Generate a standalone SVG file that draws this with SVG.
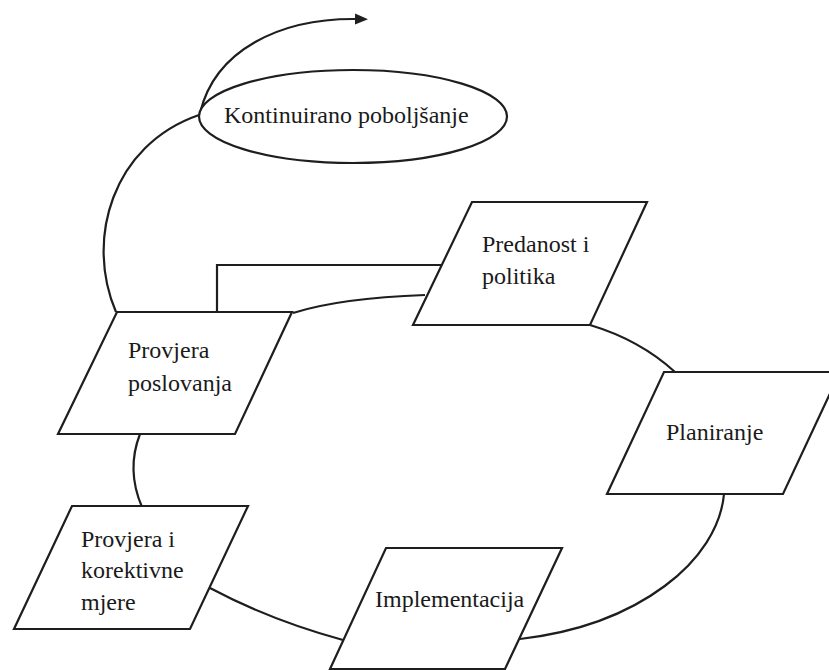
<svg xmlns="http://www.w3.org/2000/svg" width="829" height="670" viewBox="0 0 829 670">
<style>
.c{fill:none;stroke:#1e1e1e;stroke-width:2.2}
.n{fill:#fff;stroke:#1e1e1e;stroke-width:2.2}
.t{font-family:"Liberation Serif",serif;font-size:24px;fill:#1a1a1a}
</style>
<defs>
<marker id="ah" markerUnits="userSpaceOnUse" markerWidth="14" markerHeight="12" refX="2" refY="5.5" orient="auto">
<path d="M0,0 L13,5.5 L0,11 z" fill="#1e1e1e"/>
</marker>
</defs>
<rect width="829" height="670" fill="#fff"/>
<g id="connectors">
<path class="c" d="M200,113 C215,50 280,18 357,19" marker-end="url(#ah)"/>
<path class="c" d="M199,115 C112,145 85,240 116,312"/>
<path class="c" d="M217,311 V265 H442"/>
<path class="c" d="M293,313 Q340,298 425,295"/>
<path class="c" d="M590,325 Q640,340 675,372"/>
<path class="c" d="M724,494 C718,560 640,625 520,639"/>
<path class="c" d="M210,588 Q270,620 343,640"/>
<path class="c" d="M140,434 Q126,470 142,507"/>
</g>
<g id="kontinuirano">
<ellipse class="n" cx="353" cy="116.5" rx="154" ry="46.5"/>
<text class="t" font-family="Liberation Serif, serif" x="224" y="123">Kontinuirano poboljšanje</text>
</g>
<g id="predanost">
<polygon class="n" points="472,202 647,202 590,325 413,325"/>
<text class="t" font-family="Liberation Serif, serif" x="482" y="252">Predanost i</text>
<text class="t" font-family="Liberation Serif, serif" x="482" y="284">politika</text>
</g>
<g id="planiranje">
<polygon class="n" points="664,372 840,372 783,494 607,494"/>
<text class="t" font-family="Liberation Serif, serif" x="666" y="440">Planiranje</text>
</g>
<g id="implementacija">
<polygon class="n" points="386,548 562,548 505,669 330,669"/>
<text class="t" font-family="Liberation Serif, serif" x="375" y="607">Implementacija</text>
</g>
<g id="provjera-poslovanja">
<polygon class="n" points="117,312 292,312 235,434 58,434"/>
<text class="t" font-family="Liberation Serif, serif" x="128" y="358">Provjera</text>
<text class="t" font-family="Liberation Serif, serif" x="128" y="391">poslovanja</text>
</g>
<g id="provjera-korektivne">
<polygon class="n" points="72,506 248,506 190,629 14,629"/>
<text class="t" font-family="Liberation Serif, serif" x="81" y="547">Provjera i</text>
<text class="t" font-family="Liberation Serif, serif" x="81" y="578">korektivne</text>
<text class="t" font-family="Liberation Serif, serif" x="81" y="610">mjere</text>
</g>
</svg>
